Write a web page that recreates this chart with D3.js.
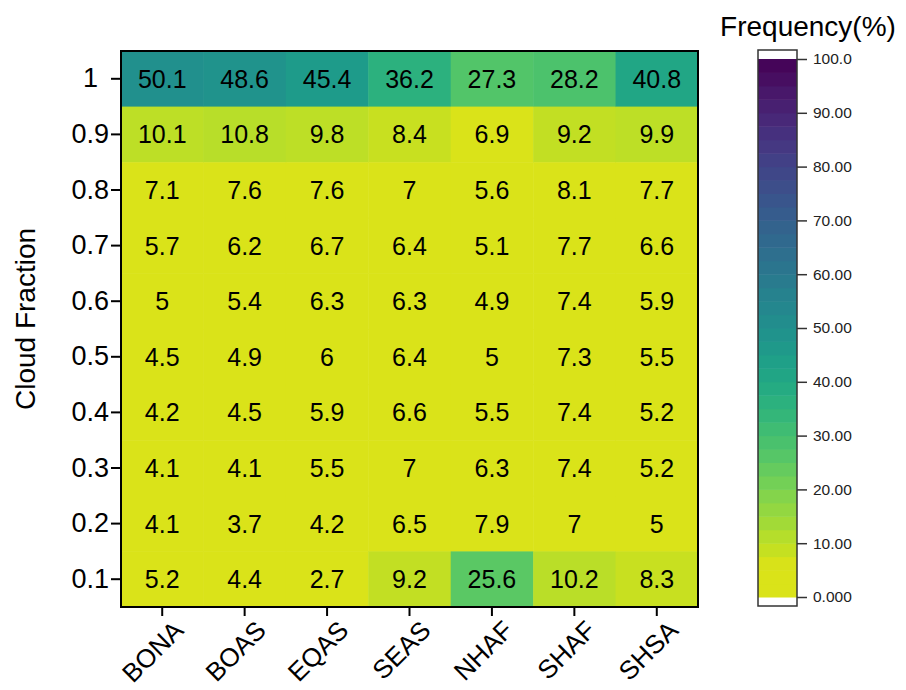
<!DOCTYPE html>
<html>
<head>
<meta charset="utf-8">
<script src="https://cdn.jsdelivr.net/npm/d3@7"></script>
<style>
  body { margin: 0; background: #fff; }
  svg { display: block; font-family: "Liberation Sans", Arial, sans-serif; }
</style>
</head>
<body>
<svg id="chart" width="906" height="690"></svg>
<script>
// ---- Data ----
const regions = ["BONA", "BOAS", "EQAS", "SEAS", "NHAF", "SHAF", "SHSA"];
const fractions = ["1", "0.9", "0.8", "0.7", "0.6", "0.5", "0.4", "0.3", "0.2", "0.1"];
// frequency (%) per region, listed in the order of `fractions` (1 down to 0.1)
const BONA = [50.1, 10.1, 7.1, 5.7, 5, 4.5, 4.2, 4.1, 4.1, 5.2];
const BOAS = [48.6, 10.8, 7.6, 6.2, 5.4, 4.9, 4.5, 4.1, 3.7, 4.4];
const EQAS = [45.4, 9.8, 7.6, 6.7, 6.3, 6, 5.9, 5.5, 4.2, 2.7];
const SEAS = [36.2, 8.4, 7, 6.4, 6.3, 6.4, 6.6, 7, 6.5, 9.2];
const NHAF = [27.3, 6.9, 5.6, 5.1, 4.9, 5, 5.5, 6.3, 7.9, 25.6];
const SHAF = [28.2, 9.2, 8.1, 7.7, 7.4, 7.3, 7.4, 7.4, 7, 10.2];
const SHSA = [40.8, 9.9, 7.7, 6.6, 5.9, 5.5, 5.2, 5.2, 5, 8.3];
const colorbarTicks = [0, 10, 20, 30, 40, 50, 60, 70, 80, 90, 100];
const colorbarLabels = ["0.000", "10.00", "20.00", "30.00", "40.00", "50.00", "60.00", "70.00", "80.00", "90.00", "100.0"];
const bandStep = 2.5;

const seriesByRegion = { BONA, BOAS, EQAS, SEAS, NHAF, SHAF, SHSA };
const cells = [];
regions.forEach(r => {
  seriesByRegion[r].forEach((v, i) => cells.push({ region: r, fraction: fractions[i], value: v }));
});

// ---- Layout ----
const svg = d3.select("#chart");
const plot = { left: 121, right: 698, top: 51, bottom: 607 };

const x = d3.scaleBand().domain(regions).range([plot.left, plot.right]).padding(0);
const y = d3.scaleBand().domain(fractions).range([plot.top, plot.bottom]).padding(0);

// reversed viridis: low values -> yellow, 100 -> dark purple; lowest level flat
const colorFor = v => d3.interpolateViridis(1 - Math.max(v, 5.5) / 100);
const bandColor = v => {
  const lo = Math.min(Math.floor(v / bandStep) * bandStep, 100 - bandStep);
  return colorFor(lo + bandStep / 2);
};

// cells
svg.append("g").selectAll("rect")
  .data(cells).join("rect")
  .attr("x", d => x(d.region))
  .attr("y", d => y(d.fraction))
  .attr("width", x.bandwidth() + 0.5)
  .attr("height", y.bandwidth() + 0.5)
  .attr("fill", d => colorFor(d.value < 8.2 ? 5 : d.value));

// cell labels
svg.append("g").selectAll("text")
  .data(cells).join("text")
  .attr("x", d => x(d.region) + x.bandwidth() / 2)
  .attr("y", d => y(d.fraction) + y.bandwidth() / 2)
  .attr("text-anchor", "middle")
  .attr("dy", "0.36em")
  .attr("font-size", 25)
  .attr("fill", "#000")
  .text(d => d.value);

// frame
svg.append("rect")
  .attr("x", plot.left).attr("y", plot.top)
  .attr("width", plot.right - plot.left).attr("height", plot.bottom - plot.top)
  .attr("fill", "none").attr("stroke", "#000").attr("stroke-width", 2);

// y axis
const yAxis = svg.append("g")
  .attr("transform", `translate(${plot.left},0)`)
  .call(d3.axisLeft(y).tickSize(10).tickPadding(2));
yAxis.select(".domain").remove();
yAxis.selectAll(".tick line").attr("stroke", "#000").attr("stroke-width", 2);
yAxis.selectAll(".tick text").attr("font-size", 27).attr("fill", "#000")
  .attr("font-family", "Liberation Sans, Arial, sans-serif")
  .attr("dx", d => d === "1" ? -11 : 0);

// x axis
const xAxis = svg.append("g")
  .attr("transform", `translate(0,${plot.bottom})`)
  .call(d3.axisBottom(x).tickSize(9).tickPadding(2));
xAxis.select(".domain").remove();
xAxis.selectAll(".tick line").attr("stroke", "#000").attr("stroke-width", 2);
xAxis.selectAll(".tick text")
  .attr("font-size", 26).attr("fill", "#000")
  .attr("font-family", "Liberation Sans, Arial, sans-serif")
  .attr("text-anchor", "end")
  .attr("transform", "translate(10,12) rotate(-45)")
  .attr("x", 0).attr("y", 0).attr("dy", "0.7em");

// y axis title
svg.append("text")
  .attr("transform", "translate(35,319) rotate(-90)")
  .attr("text-anchor", "middle")
  .attr("font-size", 28)
  .attr("fill", "#000")
  .text("Cloud Fraction");

// ---- Color bar ----
const cb = { left: 758, right: 797, top: 50, bottom: 606, v100: 59, v0: 597 };
const cy = d3.scaleLinear().domain([0, 100]).range([cb.v0, cb.v100]);
const bands = d3.range(0, 100, bandStep);
svg.append("rect")
  .attr("x", cb.left).attr("y", cb.top)
  .attr("width", cb.right - cb.left).attr("height", cb.bottom - cb.top)
  .attr("fill", "#fff");
svg.append("g").selectAll("rect")
  .data(bands).join("rect")
  .attr("x", cb.left)
  .attr("y", d => cy(d + bandStep))
  .attr("width", cb.right - cb.left)
  .attr("height", d => cy(d) - cy(d + bandStep) + 0.5)
  .attr("fill", d => bandColor(d + bandStep / 2));
svg.append("rect")
  .attr("x", cb.left).attr("y", cb.top)
  .attr("width", cb.right - cb.left).attr("height", cb.bottom - cb.top)
  .attr("fill", "none").attr("stroke", "#333").attr("stroke-width", 1.5);

const cAxis = svg.append("g")
  .attr("transform", `translate(${cb.right},0)`)
  .call(d3.axisRight(cy).tickValues(colorbarTicks).tickSize(10).tickPadding(6)
    .tickFormat((d, i) => colorbarLabels[i]));
cAxis.select(".domain").remove();
cAxis.selectAll(".tick line").attr("stroke", "#333").attr("stroke-width", 1.5);
cAxis.selectAll(".tick text").attr("font-size", 15.5).attr("fill", "#222")
  .attr("font-family", "Liberation Sans, Arial, sans-serif");

svg.append("text")
  .attr("x", 808).attr("y", 36)
  .attr("text-anchor", "middle")
  .attr("font-size", 28)
  .attr("fill", "#000")
  .text("Frequency(%)");
</script>
</body>
</html>
